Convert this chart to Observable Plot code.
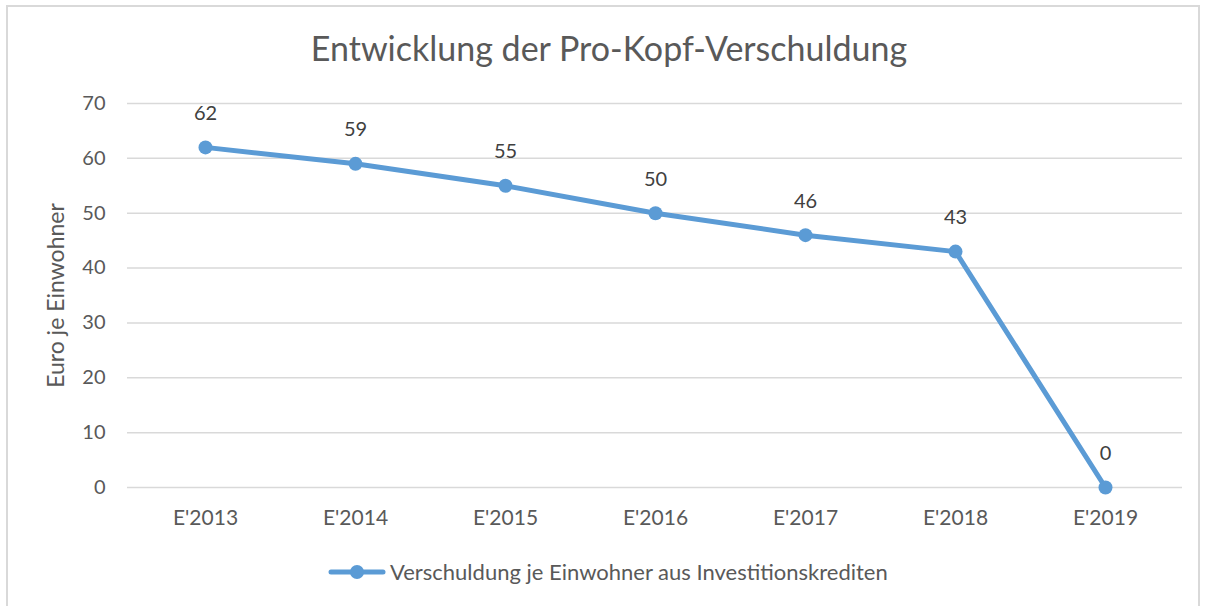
<!DOCTYPE html>
<html>
<head>
<meta charset="utf-8">
<script src="https://cdn.jsdelivr.net/npm/d3@7"></script>
<script src="https://cdn.jsdelivr.net/npm/@observablehq/plot@0.6"></script>
<style>
  html, body { margin: 0; padding: 0; background: #fff; }
  #wrap { position: relative; width: 1206px; height: 606px; overflow: hidden; font-family: Lato, "Open Sans", sans-serif; }
  #frame { position: absolute; left: 6px; top: 5px; width: 1194px; height: 640px; border: 2px solid #d9d9d9; box-sizing: border-box; }
  #title { position: absolute; left: 0; top: 27px; width: 1218px; text-align: center; font-size: 34px; color: #595959; white-space: nowrap; }
  #chart { position: absolute; left: 0; top: 0; }
  #legend { position: absolute; left: 328px; top: 558px; display: flex; align-items: center; font-size: 22px; color: #595959; white-space: nowrap; }
  #legend svg { margin-right: 4px; }
</style>
</head>
<body>
<div id="wrap">
  <div id="frame"></div>
  <div id="chart"></div>
  <div id="title">Entwicklung der Pro-Kopf-Verschuldung</div>
  <div id="legend"><svg width="58" height="16"><line x1="3" y1="8" x2="55" y2="8" stroke="#5b9bd5" stroke-width="5" stroke-linecap="round"/><circle cx="29" cy="8" r="7" fill="#5b9bd5"/></svg><span>Verschuldung je Einwohner aus Investitionskrediten</span></div>
</div>
<script>
const categories = ["E'2013", "E'2014", "E'2015", "E'2016", "E'2017", "E'2018", "E'2019"];
const values = [62, 59, 55, 50, 46, 43, 0];
const yTicks = [0, 10, 20, 30, 40, 50, 60, 70];
const seriesName = "Verschuldung je Einwohner aus Investitionskrediten";
const yLabel = "Euro je Einwohner";

const data = categories.map((c, i) => ({cat: c, value: values[i]}));
const color = "#5b9bd5";

const chart = Plot.plot({
  width: 1206,
  height: 606,
  marginLeft: 127,
  marginRight: 24,
  marginTop: 103,
  marginBottom: 119,
  style: {fontFamily: "Lato, 'Open Sans', sans-serif", fontSize: "19px", color: "#595959", background: "transparent"},
  x: {type: "band", domain: categories, padding: 0},
  y: {domain: [0, 70]},
  marks: [
    Plot.ruleY(yTicks, {stroke: "#d9d9d9", strokeWidth: 1.5, strokeOpacity: 1}),
    Plot.axisY({ticks: yTicks, tickSize: 0, tickPadding: 22, label: null, fontSize: 20, fill: "#595959"}),
    Plot.axisY({ticks: [], label: yLabel, labelAnchor: "center", labelArrow: "none", labelOffset: 80, fontSize: 23, fill: "#595959"}),
    Plot.axisX({tickSize: 0, tickPadding: 23, label: null, fontSize: 21, fill: "#595959"}),
    Plot.line(data, {x: "cat", y: "value", stroke: color, strokeWidth: 5, strokeLinejoin: "round"}),
    Plot.dot(data, {x: "cat", y: "value", r: 7, fill: color}),
    Plot.text(data, {x: "cat", y: "value", text: d => String(d.value), dy: -34, fontSize: 20, fill: "#404040"})
  ]
});
document.getElementById("chart").appendChild(chart);
</script>
</body>
</html>
